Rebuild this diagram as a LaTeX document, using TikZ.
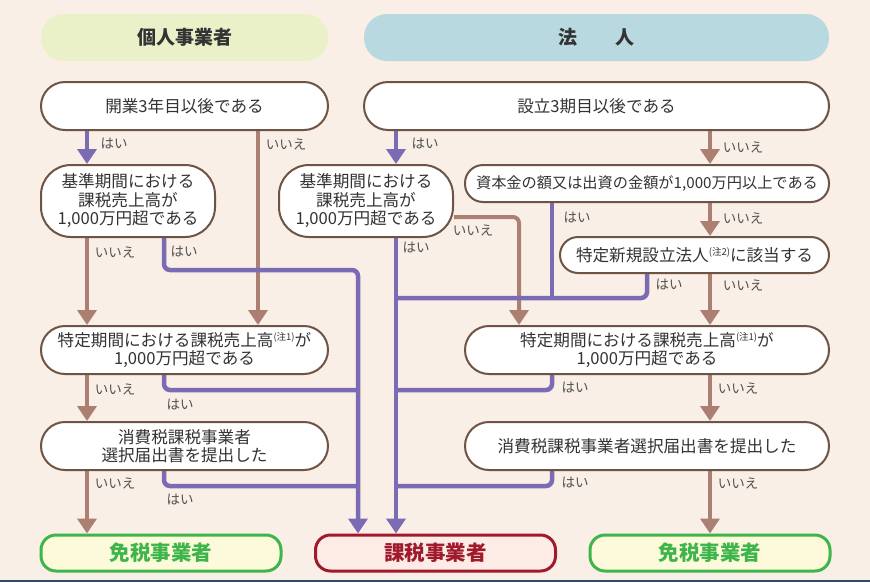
\documentclass[tikz,border=0pt]{standalone}
\usepackage{fontspec}
\setmainfont{Noto Sans CJK JP}
\usetikzlibrary{arrows.meta,backgrounds}
\definecolor{bgc}{HTML}{F9EFE6}
\definecolor{navy}{HTML}{2E4B6C}
\definecolor{hdl}{HTML}{EAF1C9}
\definecolor{hdr}{HTML}{B8D9E0}
\definecolor{purp}{HTML}{7B6BB5}
\definecolor{brn}{HTML}{AB8073}
\definecolor{nodeb}{HTML}{6D5445}
\definecolor{txt}{HTML}{333333}
\definecolor{grn}{HTML}{3DB54A}
\definecolor{grnfill}{HTML}{FDFADC}
\definecolor{redb}{HTML}{A01A2C}
\definecolor{redfill}{HTML}{FCECE5}
\newcommand\fsn{\fontsize{16.6}{18.5}\selectfont}
\newcommand\fse{\fontsize{15.2}{18}\selectfont}
\newcommand\fsl{\fontsize{13.5}{15}\selectfont}
\newcommand\fsh{\fontsize{19}{22}\selectfont}
\newcommand\fsr{\fontsize{20.5}{24}\selectfont}
\newcommand\chu[1]{\raisebox{5.5pt}{\fontsize{9.5}{9.5}\selectfont #1}}
\tikzset{
  box/.style={draw=nodeb, line width=2pt, fill=white, rounded corners=#1,
    inner sep=0pt, align=center, font=\fsn, text=txt},
  box/.default=22pt,
  hdr/.style={rounded corners=23pt, inner sep=0pt, font=\fsh\bfseries, text=txt},
  res/.style={line width=3pt, rounded corners=15pt, inner sep=0pt, minimum width=240pt,
    minimum height=36pt, font=\fsr\bfseries},
  yes/.style={draw=purp, line width=4.5pt, rounded corners=6pt},
  no/.style={draw=brn, line width=4pt, rounded corners=6pt},
  tip/.style={-{Triangle[length=15pt,width=19pt]}},
  lab/.style={font=\fsl, text=txt!85, inner sep=0pt},
}
\begin{document}
\begin{tikzpicture}[x=1pt,y=-1pt]
\useasboundingbox (0,0) rectangle (870,582);
% headers
\node[hdr, fill=hdl, minimum width=287pt, minimum height=47pt] (h1) at (184.5,37.5) {個人事業者};
\node[hdr, fill=hdr, minimum width=465pt, minimum height=47pt] (h2) at (596.5,37.5) {法\hspace{38pt}人};
% decision boxes
\node[box=24pt, minimum width=287pt, minimum height=48pt] (A) at (184.5,106) {開業3年目以後である};
\node[box=24pt, minimum width=465pt, minimum height=48pt] (B) at (596.5,106) {設立3期目以後である};
\node[box=30pt, minimum width=174pt, minimum height=72pt] (C) at (128,201) {基準期間における\\課税売上高が\\1,000万円超である};
\node[box=30pt, minimum width=174pt, minimum height=72pt] (D) at (366,201) {基準期間における\\課税売上高が\\1,000万円超である};
\node[box=18pt, minimum width=364pt, minimum height=37pt, font=\fse] (E) at (647,183.5) {資本金の額又は出資の金額が1,000万円以上である};
\node[box=18pt, minimum width=269pt, minimum height=36pt] (F) at (694.5,255) {特定新規設立法人\chu{(注2)}に該当する};
\node[box=24pt, minimum width=287pt, minimum height=48pt] (G) at (184.5,350) {特定期間における課税売上高\chu{(注1)}が\\1,000万円超である};
\node[box=24pt, minimum width=364pt, minimum height=48pt] (H) at (647,350) {特定期間における課税売上高\chu{(注1)}が\\1,000万円超である};
\node[box=24pt, minimum width=287pt, minimum height=48pt] (I) at (184.5,446) {消費税課税事業者\\選択届出書を提出した};
\node[box=24pt, minimum width=364pt, minimum height=48pt] (J) at (647,446) {消費税課税事業者選択届出書を提出した};
% results
\node[res, draw=grn, fill=grnfill, text=grn] (K) at (161,553) {免税事業者};
\node[res, draw=redb, fill=redfill, text=redb] (L) at (435.5,553) {課税事業者};
\node[res, draw=grn, fill=grnfill, text=grn] (M) at (710,553) {免税事業者};
% helper coordinates
\coordinate (xa) at (87,0);
\coordinate (xb) at (164,0);
\coordinate (xc) at (258,0);
\coordinate (xe) at (396,0);
\coordinate (xf) at (519,0);
\coordinate (xg) at (552,0);
\coordinate (xh) at (647,0);
\coordinate (xi) at (710,0);
\coordinate (r1) at (358,270);
\coordinate (r2) at (358,390);
\coordinate (r3) at (358,486);
\coordinate (r4) at (396,298);
\coordinate (r5) at (396,390);
\coordinate (r6) at (396,486);
\begin{scope}[on background layer]
\fill[bgc] (0,0) rectangle (870,582);
\fill[navy] (0,579.5) rectangle (870,582);
% individual side
\draw[yes,tip] (A.south -| xa) -- (C.north -| xa);
\draw[no,tip] (A.south -| xc) -- (G.north -| xc);
\draw[no,tip] (C.south -| xa) -- (G.north -| xa);
\draw[yes,tip] (C.south -| xb) |- (r1) -- (L.north -| r1);
\draw[yes] (G.south -| xb) |- (r2);
\draw[no,tip] (G.south -| xa) -- (I.north -| xa);
\draw[yes] (I.south -| xb) |- (r3);
\draw[no,tip] (I.south -| xa) -- (K.north -| xa);
% corporation side
\draw[yes,tip] (B.south -| xe) -- (D.north -| xe);
\draw[no,tip] (B.south -| xi) -- (E.north -| xi);
\draw[yes,tip] (D.south -| xe) -- (L.north -| xe);
\draw[no,tip] ([yshift=-16pt]D.east) -| (H.north -| xf);
\draw[no,tip] (E.south -| xi) -- (F.north -| xi);
\draw[yes] (E.south -| xg) -- (r4 -| xg);
\draw[yes] (F.south -| xh) |- (r4);
\draw[no,tip] (F.south -| xi) -- (H.north -| xi);
\draw[yes] (H.south -| xg) |- (r5);
\draw[no,tip] (H.south -| xi) -- (J.north -| xi);
\draw[yes] (J.south -| xg) |- (r6);
\draw[no,tip] (J.south -| xi) -- (M.north -| xi);
\end{scope}
% labels
\node[lab] (l1) at (114,144) {はい};
\node[lab] (l2) at (286,144) {いいえ};
\node[lab] (l3) at (115,252) {いいえ};
\node[lab] (l4) at (184,252) {はい};
\node[lab] (l5) at (115,389) {いいえ};
\node[lab] (l6) at (180,405) {はい};
\node[lab] (l7) at (115,483) {いいえ};
\node[lab] (l8) at (180,500) {はい};
\node[lab] (l9) at (425,144) {はい};
\node[lab] (l10) at (743,147) {いいえ};
\node[lab] (l11) at (416,248) {はい};
\node[lab] (l12) at (473,230) {いいえ};
\node[lab] (l13) at (577,218) {はい};
\node[lab] (l14) at (743,218) {いいえ};
\node[lab] (l15) at (669,285) {はい};
\node[lab] (l16) at (743,285) {いいえ};
\node[lab] (l17) at (575,388) {はい};
\node[lab] (l18) at (738,388) {いいえ};
\node[lab] (l19) at (575,483) {はい};
\node[lab] (l20) at (738,483) {いいえ};
\end{tikzpicture}
\end{document}
